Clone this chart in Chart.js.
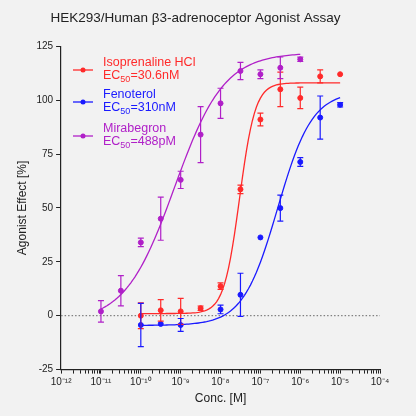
<!DOCTYPE html>
<html><head><script src="https://cdn.jsdelivr.net/npm/chart.js@4"></script>
<style>body{margin:0;background:#f2f2f2}#w{width:416px;height:416px}</style></head>
<body><div id="w"><canvas id="c"></canvas></div>
<script>
const seriesNames=["Isoprenaline HCl","Fenoterol","Mirabegron"];
const ec50Labels=["30.6nM","310nM","488pM"];
const colors=["#ff2a2a","#1a1aff","#b020c8"];
const isoX=[1e-10,3.16e-10,1e-9,3.16e-9,1e-8,3.16e-8,1e-7,3.16e-7,1e-6,3.16e-6,1e-5];
const isoY=[0,2.5,2,3.5,13.7,58.6,91,105,101,111,112];
const isoErr=[6,5,6,1,1.5,2,3,8,5,3,0];
const fenX=[1e-10,3.16e-10,1e-9,1e-8,3.16e-8,1e-7,3.16e-7,1e-6,3.16e-6,1e-5];
const fenY=[-4.3,-3.8,-4.3,2.9,9.7,36.3,49.9,71.3,91.9,97.8];
const fenErr=[10,0,3,2,10,0,6,2,10,1];
const mirX=[1e-11,3.16e-11,1e-10,3.16e-10,1e-9,3.16e-9,1e-8,3.16e-8,1e-7,3.16e-7,1e-6];
const mirY=[2,11.6,34,45,63,84,98.5,113.5,112,115,118.9];
const mirErr=[5,7,2,10,4,13,7,4,2,5,1];
// Hill fit parameters (fitted curve as drawn): bottom, top, midpoint, hill slope
const fitBottom=[1,-4.5,-3];
const fitTop=[108,104,122];
const fitEC50=[30e-9,270e-9,0.7e-9];
const fitHill=[2.2,1.0,0.7];
const fitRange=[[1e-10,1e-5],[1e-10,1e-5],[1e-11,1e-6]];
function curve(i){const pts=[];const [a,b]=fitRange[i];for(let k=0;k<=100;k++){const x=Math.pow(10,Math.log10(a)+(Math.log10(b)-Math.log10(a))*k/100);pts.push({x,y:fitBottom[i]+(fitTop[i]-fitBottom[i])/(1+Math.pow(fitEC50[i]/x,fitHill[i]))});}return pts;}
const X=[isoX,fenX,mirX],Y=[isoY,fenY,mirY],E=[isoErr,fenErr,mirErr];
const datasets=[];
for(let i=0;i<3;i++){
 datasets.push({type:'line',data:curve(i),borderColor:colors[i],borderWidth:1.3,pointRadius:0,fill:false,tension:0});
 datasets.push({type:'scatter',data:X[i].map((x,j)=>({x,y:Y[i][j],e:E[i][j]})),backgroundColor:colors[i],borderColor:colors[i],pointRadius:2.5,errIdx:i});
}
const sup={'-':'⁻','0':'⁰','1':'¹','2':'²','3':'³','4':'⁴','5':'⁵','6':'⁶','7':'⁷','8':'⁸','9':'⁹'};
const extra={id:'extra',
 beforeDatasetsDraw(ch){const {ctx,chartArea:a,scales:{y}}=ch;const y0=y.getPixelForValue(0);ctx.save();ctx.strokeStyle='#666';ctx.lineWidth=1;ctx.setLineDash([1.5,2]);ctx.beginPath();ctx.moveTo(a.left,y0);ctx.lineTo(a.right,y0);ctx.stroke();ctx.restore();},
 afterDatasetsDraw(ch){const {ctx,scales:{x,y}}=ch;ctx.save();
  ch.data.datasets.forEach(ds=>{if(ds.errIdx===undefined)return;ctx.strokeStyle=ds.borderColor;ctx.lineWidth=1.2;
   ds.data.forEach(p=>{if(!p.e)return;const px=x.getPixelForValue(p.x),t=y.getPixelForValue(p.y+p.e),b=y.getPixelForValue(p.y-p.e);ctx.beginPath();ctx.moveTo(px,t);ctx.lineTo(px,b);ctx.moveTo(px-3,t);ctx.lineTo(px+3,t);ctx.moveTo(px-3,b);ctx.lineTo(px+3,b);ctx.stroke();});});
  const lx=73,ly=[70,102,136];
  for(let i=0;i<3;i++){const c=colors[i];ctx.strokeStyle=c;ctx.fillStyle=c;ctx.lineWidth=1.3;ctx.beginPath();ctx.moveTo(lx,ly[i]);ctx.lineTo(lx+20,ly[i]);ctx.stroke();ctx.beginPath();ctx.arc(lx+10,ly[i],2.5,0,7);ctx.fill();
   ctx.font='12.5px Arial, "Liberation Sans"';ctx.textBaseline='middle';ctx.fillText(seriesNames[i],103,ly[i]-7);
   ctx.fillText('EC',103,ly[i]+6);let w=ctx.measureText('EC').width;ctx.font='9px Arial, "Liberation Sans"';ctx.fillText('50',103+w,ly[i]+10);let w2=ctx.measureText('50').width;ctx.font='12.5px Arial, "Liberation Sans"';ctx.fillText('='+ec50Labels[i],103+w+w2,ly[i]+6);}
  ctx.restore();}};
new Chart(document.getElementById('c'),{data:{datasets},plugins:[extra],
 options:{responsive:true,maintainAspectRatio:false,animation:false,layout:{padding:{left:11,right:36,top:0,bottom:6}},
  plugins:{legend:{display:false},tooltip:{enabled:false},title:{display:true,text:'HEK293/Human β3-adrenoceptor Agonist Assay',color:'#222',font:{size:13.5,family:'Arial, "Liberation Sans"',weight:'normal'},padding:{top:10,bottom:20}}},
  scales:{
   x:{type:'logarithmic',min:1e-12,max:1e-4,border:{color:'#222',width:1.2},grid:{drawOnChartArea:false,color:'#222',tickLength:4},
    afterBuildTicks(s){const t=[];for(let e=-12;e<=-4;e++){t.push({value:Math.pow(10,e),major:true});if(e<-4)for(let m=2;m<=9;m++)t.push({value:m*Math.pow(10,e)});}s.ticks=t;},
    ticks:{color:'#222',font:{size:10,family:'Arial, "Liberation Sans"'},maxRotation:0,autoSkip:false,callback(v){const e=Math.log10(v);if(Math.abs(e-Math.round(e))>1e-6)return '';return '10'+String(Math.round(e)).split('').map(c=>sup[c]).join('');}},
    title:{display:true,text:'Conc. [M]',color:'#222',font:{size:12,family:'Arial, "Liberation Sans"'},padding:{top:0}}},
   y:{min:-25,max:125,border:{color:'#222',width:1.2},grid:{drawOnChartArea:false,color:'#222',tickLength:5},
    ticks:{stepSize:25,color:'#222',font:{size:10,family:'Arial, "Liberation Sans"'}},
    title:{display:true,text:'Agonist Effect [%]',color:'#222',font:{size:12,family:'Arial, "Liberation Sans"'}}}}}});
</script></body></html>
